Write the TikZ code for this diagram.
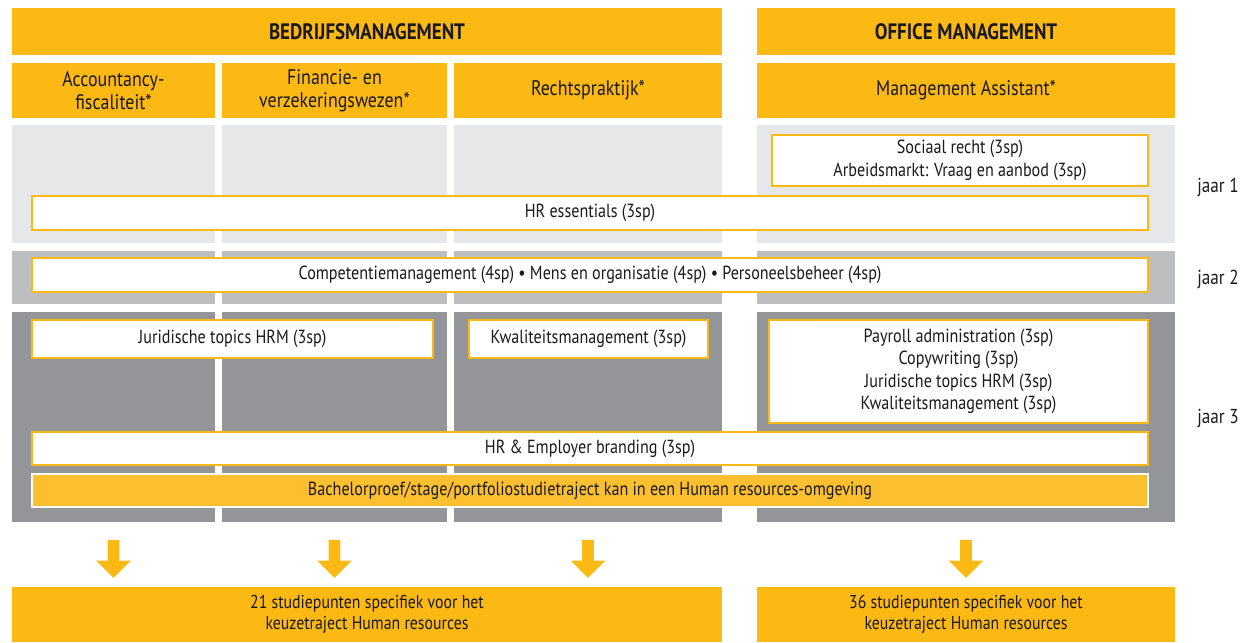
\documentclass[tikz,border=0pt]{standalone}
\usepackage{fontspec}
\setmainfont{PT Sans}[FakeStretch=0.85]
\usepackage{tikz}
\usetikzlibrary{positioning, shapes.arrows}

\definecolor{hrorange}{HTML}{FDB913}
\definecolor{hrlicht}{HTML}{FCBF30}
\definecolor{jaarA}{HTML}{E6E7E8}
\definecolor{jaarB}{HTML}{BCBEC0}
\definecolor{jaarC}{HTML}{939598}
\definecolor{tekst}{HTML}{1A1A1A}

\tikzset{
  kop/.style={fill=hrorange, inner sep=0pt, outer sep=0pt, text=tekst, font=\fontsize{12.7}{14}\selectfont\bfseries},
  richting/.style={fill=hrorange, inner sep=0pt, outer sep=0pt, align=center, text=tekst, font=\fontsize{12}{13.2}\selectfont},
  vak/.style={draw=hrorange, line width=1.1pt, fill=white, inner sep=0pt, align=center, text=tekst, font=\fontsize{10.8}{12.8}\selectfont},
  proef/.style={draw=white, line width=1.1pt, fill=hrlicht, inner sep=0pt, align=center, text=tekst, font=\fontsize{10.8}{12.8}\selectfont},
  pijl/.style={single arrow, fill=hrorange, shape border rotate=270, inner sep=0.11cm, minimum height=0.76cm, single arrow head extend=0.23cm},
  jaar/.style={text=tekst, font=\fontsize{11.5}{13}\selectfont}
}

\begin{document}
\begin{tikzpicture}[x=0.02cm, y=-0.02cm]
    \useasboundingbox (0,0) rectangle (1250,642);
    % jaarbanden per kolom
    \foreach \xa/\xb in {12/215, 222/447, 454/722, 757/1175} {
        \fill[jaarA] (\xa,125) rectangle (\xb,243);
        \fill[jaarB] (\xa,251) rectangle (\xb,304);
        \fill[jaarC] (\xa,312) rectangle (\xb,522);
    }

    \node[kop, minimum width=14.2cm, minimum height=0.94cm] (bm) at (367,31.5) {BEDRIJFSMANAGEMENT};
    \node[kop, minimum width=8.36cm, minimum height=0.94cm] (om) at (966,31.5) {OFFICE MANAGEMENT};

    \node[richting, minimum width=4.06cm, minimum height=1.1cm] (acc) at (113.5,90.5) {Accountancy-\\fiscaliteit*};
    \node[richting, minimum width=4.5cm, minimum height=1.1cm] (fin) at (334.5,90.5) {Financie- en\\verzekeringswezen*};
    \node[richting, minimum width=5.36cm, minimum height=1.1cm] (recht) at (588,90.5) {Rechtspraktijk*};
    \node[richting, minimum width=8.36cm, minimum height=1.1cm] (ma) at (966,90.5) {Management Assistant*};

    % jaar 1
    \node[vak, minimum width=7.52cm, minimum height=1.02cm] (sociaal) at (960,160.5) {Sociaal recht (3sp)\\Arbeidsmarkt: Vraag en aanbod (3sp)};
    \node[vak, minimum width=22.32cm, minimum height=0.68cm] (hress) at (590,213) {HR essentials (3sp)};
    % jaar 2
    \node[vak, minimum width=22.32cm, minimum height=0.68cm] (comp) at (590,275) {Competentiemanagement (4sp) • Mens en organisatie (4sp) • Personeelsbeheer (4sp)};
    % jaar 3
    \node[vak, minimum width=8.02cm, minimum height=0.76cm] (jur) at (232.5,339) {Juridische topics HRM (3sp)};
    \node[vak, minimum width=4.78cm, minimum height=0.76cm] (kwal) at (588.5,339) {Kwaliteitsmanagement (3sp)};
    \node[vak, minimum width=7.58cm, minimum height=2.06cm] (office) at (958.5,371.5) {Payroll administration (3sp)\\Copywriting (3sp)\\Juridische topics HRM (3sp)\\Kwaliteitsmanagement (3sp)};
    \node[vak, minimum width=22.32cm, minimum height=0.66cm] (brand) at (590,448.5) {HR \& Employer branding (3sp)};
    \node[proef, minimum width=22.32cm, minimum height=0.66cm] (bach) at (590,490.5) {Bachelorproef/stage/portfoliostudietraject kan in een Human resources-omgeving};

    \node[jaar] (j1) at (1218,187) {jaar 1};
    \node[jaar] (j2) at (1218,279) {jaar 2};
    \node[jaar] (j3) at (1218,418) {jaar 3};

    \node[pijl] (p1) at (113.5,556) {};
    \node[pijl] (p2) at (334.5,556) {};
    \node[pijl] (p3) at (588,556) {};
    \node[pijl] (p4) at (966,556) {};

    \node[richting, font=\fontsize{10.6}{11.6}\selectfont, minimum width=14.2cm, minimum height=1.1cm] (sp21) at (367,614.5) {21 studiepunten specifiek voor het\\keuzetraject Human resources};
    \node[richting, font=\fontsize{10.6}{11.6}\selectfont, minimum width=8.36cm, minimum height=1.1cm] (sp36) at (966,614.5) {36 studiepunten specifiek voor het\\keuzetraject Human resources};
\end{tikzpicture}
\end{document}
